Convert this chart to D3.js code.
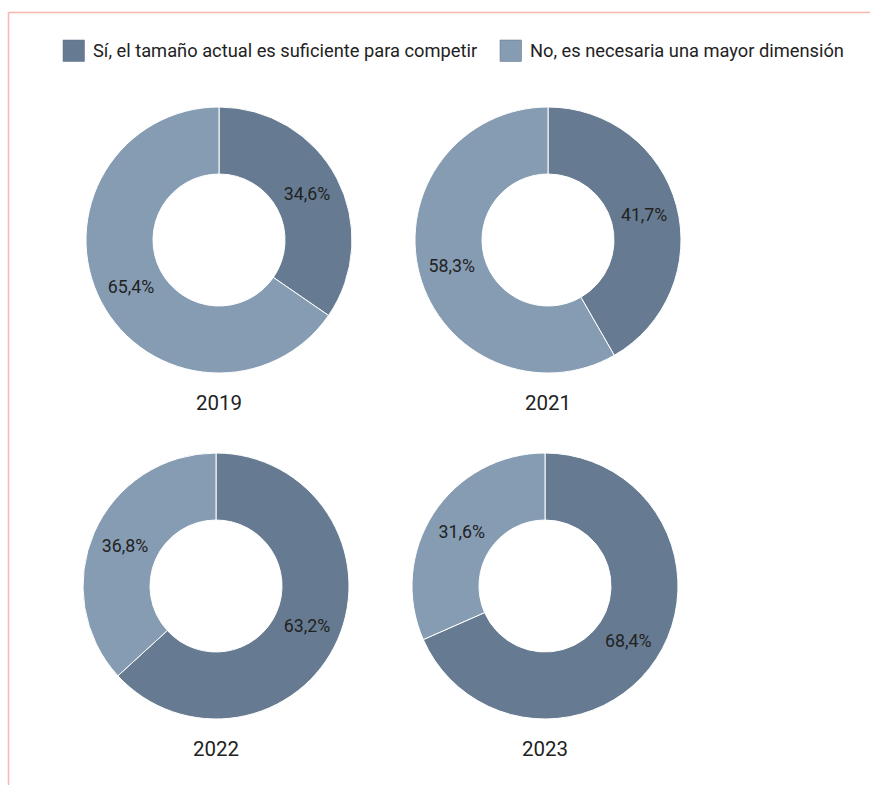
<!DOCTYPE html>
<html>
<head>
<meta charset="utf-8">
<script src="https://cdn.jsdelivr.net/npm/d3@7"></script>
<style>
  body { margin: 0; background: #fff; }
  svg text { font-family: Roboto, "Noto Sans", sans-serif; fill: #222; }
</style>
</head>
<body>
<svg id="chart" width="870" height="785"></svg>
<script>
var years = ["2019", "2021", "2022", "2023"];
var categories = ["Sí, el tamaño actual es suficiente para competir", "No, es necesaria una mayor dimensión"];
var siValues = [34.6, 41.7, 63.2, 68.4];
var noValues = [65.4, 58.3, 36.8, 31.6];
var colors = ["#667b91", "#869cb3"];

var svg = d3.select("#chart");

// frame lines (top and left)
svg.append("line")
    .attr("x1", 8.5).attr("y1", 12.5).attr("x2", 870).attr("y2", 12.5)
    .attr("stroke", "#f6b7ad").attr("stroke-width", 1.5);
svg.append("line")
    .attr("x1", 8.5).attr("y1", 12.5).attr("x2", 8.5).attr("y2", 785)
    .attr("stroke", "#f6b7ad").attr("stroke-width", 1.5);

// legend
var legendX = [63, 500];
var legend = svg.selectAll(".legend")
    .data(categories)
    .enter().append("g")
    .attr("class", "legend")
    .attr("transform", function (d, i) {
        return "translate(" + legendX[i] + ",40)";
    });
legend.append("rect")
    .attr("width", 21.5).attr("height", 21.5)
    .attr("fill", function (d, i) { return colors[i]; })
    .attr("stroke", "#5a6f85").attr("stroke-width", 0.5);
legend.append("text")
    .attr("x", 30).attr("y", 17)
    .style("font-size", "18.3px")
    .text(function (d) { return d; });

// donut grid
var col = d3.scaleOrdinal().domain([0, 1]).range([219, 548]);
var row = d3.scaleOrdinal().domain([0, 1]).range([240, 586]);
var outerR = 133, innerR = 66;

var pie = d3.pie().sort(null).startAngle(0).endAngle(2 * Math.PI);
var arc = d3.arc().innerRadius(innerR).outerRadius(outerR);
var fmt = function (v) { return d3.format(".1f")(v).replace(".", ",") + "%"; };

years.forEach(function (year, i) {
    var cx = col(i % 2) - (i >= 2 ? 3 : 0),
        cy = row(Math.floor(i / 2));
    var g = svg.append("g").attr("transform", "translate(" + cx + "," + cy + ")");
    var slices = pie([siValues[i], noValues[i]]);

    g.selectAll("path")
        .data(slices)
        .enter().append("path")
        .attr("d", arc)
        .attr("fill", function (d, j) { return colors[j]; })
        .attr("stroke", "#ffffff")
        .attr("stroke-width", 1);

    g.selectAll(".lbl")
        .data(slices)
        .enter().append("text")
        .attr("class", "lbl")
        .attr("transform", function (d) { return "translate(" + arc.centroid(d) + ")"; })
        .attr("text-anchor", "middle")
        .attr("dy", "0.35em")
        .style("font-size", "17.8px")
        .text(function (d) { return fmt(d.data); });

    g.append("text")
        .attr("y", 170)
        .attr("text-anchor", "middle")
        .style("font-size", "20.5px")
        .text(year);
});
</script>
</body>
</html>
